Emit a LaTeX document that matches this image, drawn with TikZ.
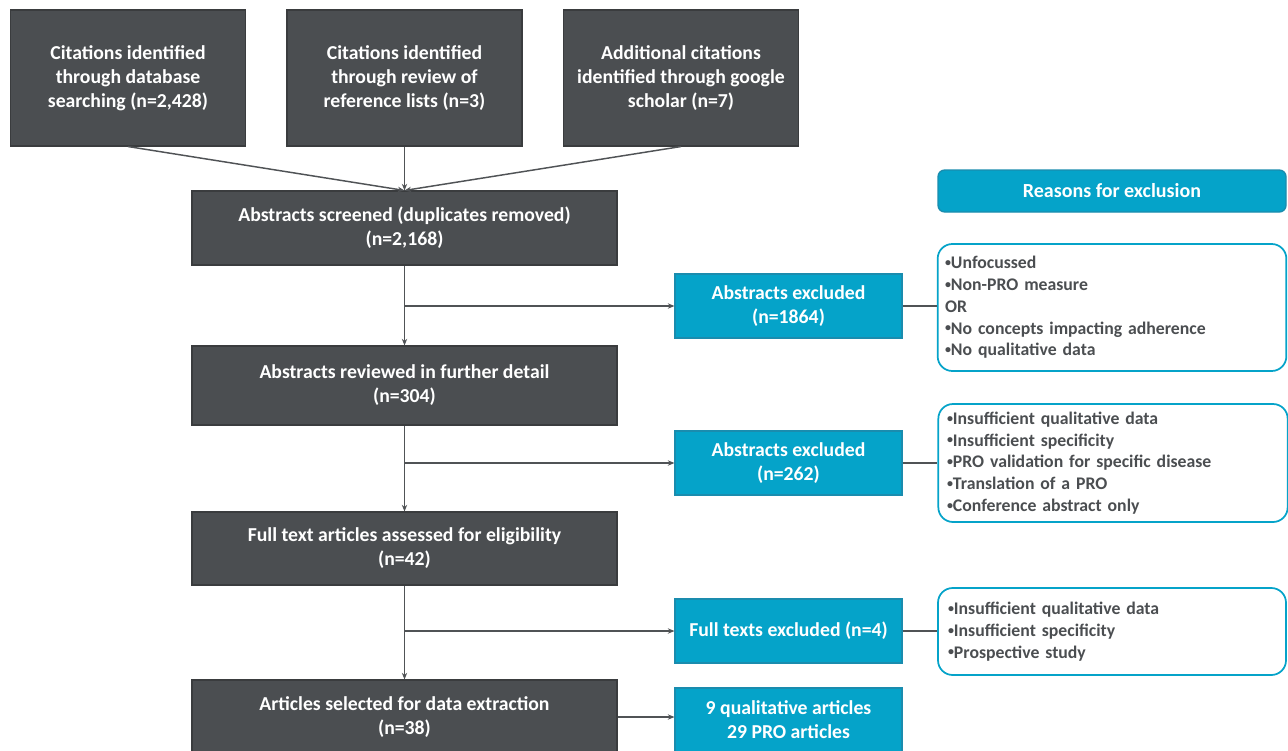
\documentclass[tikz,border=0pt]{standalone}
\usepackage{fontspec}
\setmainfont{Carlito}
\usetikzlibrary{arrows.meta}
\definecolor{dk}{HTML}{4B4E51}
\definecolor{dkb}{HTML}{3A3C3E}
\definecolor{tl}{HTML}{05A3C9}
\definecolor{tlb}{HTML}{1A8CAE}
\definecolor{ln}{HTML}{505356}
\definecolor{rtxt}{HTML}{4B4E51}
\newcommand{\bul}{\raisebox{0.25ex}{\fontsize{9}{9}\selectfont•}}
\begin{document}
\begin{tikzpicture}[x=0.75pt,y=-0.75pt,
  mainbox/.style={draw=dkb, line width=0.8pt, fill=dk, text=white, font=\bfseries\fontsize{14.8}{18}\selectfont, align=center, inner sep=0pt, minimum width=425*0.75pt},
  topbox/.style={mainbox, minimum width=235*0.75pt, minimum height=136*0.75pt},
  exbox/.style={draw=tlb, line width=0.8pt, fill=tl, text=white, font=\bfseries\fontsize{14.8}{18}\selectfont, align=center, inner sep=0pt, minimum width=227*0.75pt, minimum height=64*0.75pt},
  reasonbox/.style={draw=tl, line width=1.3pt, rounded corners=11pt, fill=white, text=rtxt, font=\bfseries\fontsize{13.3}{16.3}\selectfont, align=left, text width=334*0.75pt, inner xsep=5.5pt, inner ysep=0pt},
  headbox/.style={draw=tlb, line width=1pt, rounded corners=5pt, fill=tl, text=white, font=\bfseries\fontsize{15}{18}\selectfont, align=center, inner sep=0pt, minimum width=348*0.75pt, minimum height=42*0.75pt},
  arr/.style={draw=ln, line width=1.1pt, -{Stealth[length=5pt,width=4pt]}},
  conn/.style={draw=ln, line width=1.4pt}
]
\useasboundingbox (0,0) rectangle (1288,750);

% top boxes
\node[topbox] (t1) at (128,78) {Citations identified\\through database\\searching (n=2,428)};
\node[topbox] (t2) at (404.5,78) {Citations identified\\through review of\\reference lists (n=3)};
\node[topbox] (t3) at (681,78) {Additional citations\\identified through google\\scholar (n=7)};

% main column
\node[mainbox, minimum height=74*0.75pt] (scr) at (404.5,228) {Abstracts screened (duplicates removed)\\(n=2,168)};
\node[mainbox, minimum height=79*0.75pt] (rev) at (404.5,385.5) {Abstracts reviewed in further detail\\(n=304)};
\node[mainbox, minimum height=73*0.75pt] (ft) at (404.5,548.5) {Full text articles assessed for eligibility\\(n=42)};
\node[mainbox, minimum height=74*0.75pt] (sel) at (404.5,717) {Articles selected for data extraction\\(n=38)};

% excluded boxes
\node[exbox] (ex1) at (788.5,306) {Abstracts excluded\\(n=1864)};
\node[exbox] (ex2) at (788.5,463) {Abstracts excluded\\(n=262)};
\node[exbox] (ex3) at (788.5,631) {Full texts excluded (n=4)};
\node[exbox] (fin) at (788.5,720) {9 qualitative articles\\29 PRO articles};

% reasons
\node[headbox] (hd) at (1112,191) {Reasons for exclusion};
\node[reasonbox, minimum height=127*0.75pt] (r1) at (1112,307.5) {\bul Unfocussed\\\bul Non-PRO measure\\OR\\\bul No concepts impacting adherence\\\bul No qualitative data};
\node[reasonbox, minimum height=118*0.75pt, text width=332*0.75pt, inner xsep=6.5pt] (r2) at (1113,463) {\bul Insufficient qualitative data\\\bul Insufficient specificity\\\bul PRO validation for specific disease\\\bul Translation of a PRO\\\bul Conference abstract only};
\node[reasonbox, minimum height=87*0.75pt, text width=328*0.75pt, inner xsep=7.5pt] (r3) at (1112,631.5) {\bul Insufficient qualitative data\\\bul Insufficient specificity\\\bul Prospective study};

% connectors
\draw[arr] (t1.south) -- (scr.north);
\draw[arr] (t2.south) -- (scr.north);
\draw[arr] (t3.south) -- (scr.north);
\draw[arr] (scr.south) -- (rev.north);
\draw[arr] (rev.south) -- (ft.north);
\draw[arr] (ft.south) -- (sel.north);
\draw[arr] (ex1.west -| scr.south) -- (ex1.west);
\draw[arr] (ex2.west -| rev.south) -- (ex2.west);
\draw[arr] (ex3.west -| ft.south) -- (ex3.west);
\draw[arr] (sel.east) -- (sel.east -| fin.west);
\draw[conn] (ex1.east) -- (ex1.east -| r1.west);
\draw[conn] (ex2.east) -- (ex2.east -| r2.west);
\draw[conn] (ex3.east) -- (ex3.east -| r3.west);
\end{tikzpicture}
\end{document}
